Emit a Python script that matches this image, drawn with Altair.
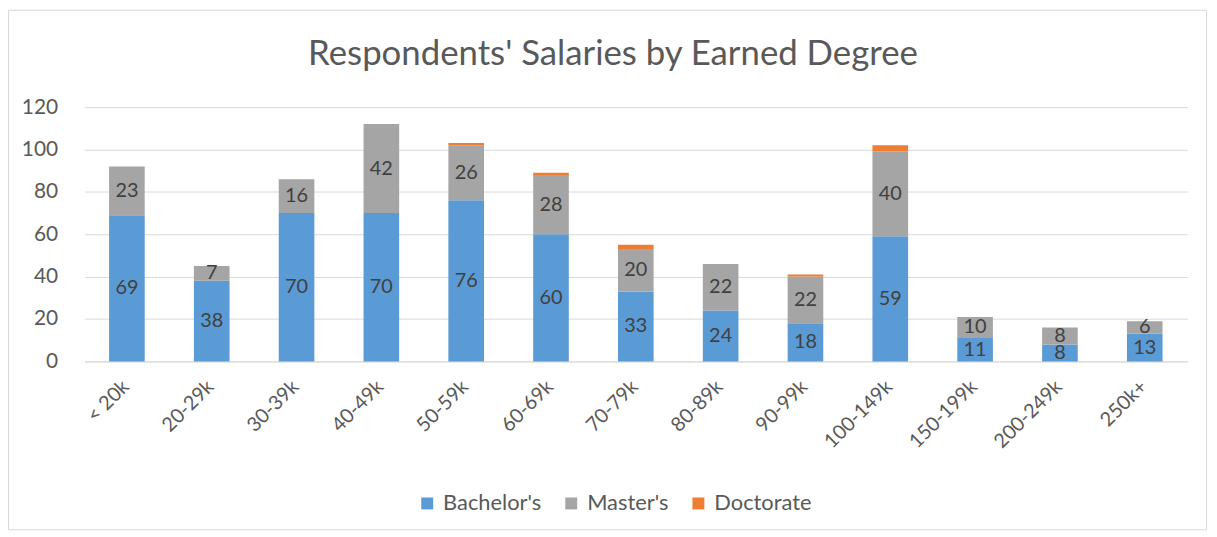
import altair as alt
import pandas as pd

categories = ["< 20k", "20-29k", "30-39k", "40-49k", "50-59k", "60-69k", "70-79k",
              "80-89k", "90-99k", "100-149k", "150-199k", "200-249k", "250k+"]
bachelors = [69, 38, 70, 70, 76, 60, 33, 24, 18, 59, 11, 8, 13]
masters = [23, 7, 16, 42, 26, 28, 20, 22, 22, 40, 10, 8, 6]
doctorate = [0, 0, 0, 0, 1, 1, 2, 0, 1, 3, 0, 0, 0]
degrees = ["Bachelor's", "Master's", "Doctorate"]
colors = ["#5B9BD5", "#A5A5A5", "#ED7D31"]

rows = []
for i, c in enumerate(categories):
    for k, (d, series) in enumerate(zip(degrees, [bachelors, masters, doctorate])):
        rows.append({"cat": c, "degree": d, "value": series[i], "ord": k})
df = pd.DataFrame(rows)

FONT = "Lato"
TXT = "#595959"

base = alt.Chart(df)

x_enc = alt.X("cat:N", sort=categories, title=None,
              scale=alt.Scale(paddingInner=0.58, paddingOuter=0.29),
              axis=alt.Axis(labelAngle=315, labelFontSize=20, labelColor=TXT, labelFont=FONT,
                            ticks=False, domainColor="#d9d9d9", labelPadding=15,
                            labelOffset=-8, grid=False))

bars = base.mark_bar().encode(
    x=x_enc,
    y=alt.Y("value:Q", stack="zero", title=None,
            scale=alt.Scale(domain=[0, 120]),
            axis=alt.Axis(values=[0, 20, 40, 60, 80, 100, 120], labelFontSize=21, labelColor=TXT,
                          labelFont=FONT, ticks=False, domain=False, gridColor="#d9d9d9",
                          labelPadding=27)),
    color=alt.Color("degree:N", scale=alt.Scale(domain=degrees, range=colors),
                    legend=alt.Legend(title=None, orient="none", direction="horizontal",
                                      legendX=334, legendY=388, symbolType="square",
                                      symbolSize=144, symbolStrokeWidth=0, labelFontSize=22,
                                      labelColor=TXT, labelFont=FONT, columnPadding=19,
                                      labelOffset=5)),
    order=alt.Order("ord:Q"),
)

labels = base.transform_stack(
    stack="value", groupby=["cat"], as_=["y0", "y1"], sort=[alt.SortField("ord")]
).transform_calculate(
    mid="(datum.y0 + datum.y1) / 2"
).transform_filter(
    "datum.degree != 'Doctorate' && datum.value > 0"
).mark_text(font=FONT, fontSize=20, color="#404040", baseline="middle").encode(
    x=alt.X("cat:N", sort=categories),
    y=alt.Y("mid:Q"),
    text=alt.Text("value:Q"),
)

frame = alt.Chart(pd.DataFrame({"f": [0]})).mark_rect(
    fillOpacity=0, stroke="#d9d9d9", strokeWidth=1
).encode(
    x=alt.value(-76.5), x2=alt.value(1129.5), y=alt.value(-97.5), y2=alt.value(425.5)
)

chart = alt.layer(frame, bars, labels).properties(
    width=1110, height=256,
    autosize=alt.AutoSizeParams(type="none"),
    padding={"left": 77, "top": 98, "right": 22, "bottom": 170},
    title=alt.TitleParams("Respondents' Salaries by Earned Degree", fontSize=35, font=FONT,
                          fontWeight="normal", color=TXT, anchor="middle", dx=-23, offset=-63),
).configure_view(stroke=None)

chart.save("out.html", embed_options={"renderer": "svg", "actions": False})
